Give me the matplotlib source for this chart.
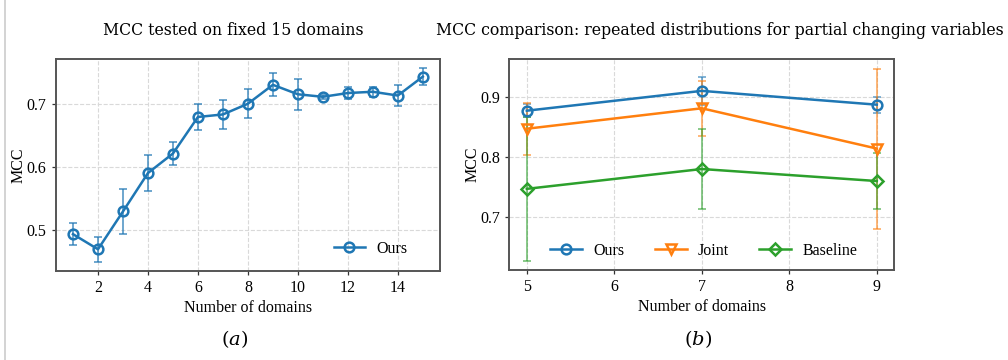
import matplotlib
matplotlib.use("Agg")
import matplotlib.pyplot as plt
from matplotlib.lines import Line2D

# Panel (a): MCC vs number of training domains, tested on 15 fixed domains
domains_a = [1, 2, 3, 4, 5, 6, 7, 8, 9, 10, 11, 12, 13, 14, 15]
mcc_a = [0.493, 0.469, 0.529, 0.590, 0.621, 0.679, 0.683, 0.700, 0.730,
         0.715, 0.711, 0.717, 0.719, 0.713, 0.743]
err_a = [0.018, 0.020, 0.035, 0.028, 0.018, 0.021, 0.023, 0.023, 0.018,
         0.025, 0.003, 0.010, 0.008, 0.016, 0.013]

# Panel (b): comparison with repeated distributions
domains_b = [5, 7, 9]
mcc_ours = [0.877, 0.910, 0.887]
err_ours = [0.011, 0.023, 0.013]
mcc_joint = [0.847, 0.881, 0.814]
err_joint = [0.043, 0.046, 0.133]
mcc_base = [0.747, 0.780, 0.760]
err_base = [0.120, 0.067, 0.047]

BLUE, ORANGE, GREEN = "#1f77b4", "#ff7f0e", "#2ca02c"
SPINE = "#555555"

plt.rcParams["font.family"] = ["Liberation Serif", "DejaVu Serif"]
plt.rcParams["mathtext.fontset"] = "dejavuserif"

W, H = 1008, 360
fig = plt.figure(figsize=(W / 100, H / 100), dpi=100)


def px_axes(x0, x1, y0, y1):
    return fig.add_axes([x0 / W, 1 - y1 / H, (x1 - x0) / W, (y1 - y0) / H])


def style(ax):
    ax.grid(True, linestyle="--", color="#d9d9d9", linewidth=0.8)
    ax.set_axisbelow(True)
    for s in ax.spines.values():
        s.set_color(SPINE)
        s.set_linewidth(1.4)
    ax.tick_params(labelsize=11.5, length=3, width=0.9, color="#333333")
    ax.set_xlabel("Number of domains", fontsize=11.5, labelpad=3)
    ax.set_ylabel("MCC", fontsize=11.5, labelpad=0)


def draw(ax, x, y, e, color, marker, label, ms=7, elw=1.4, alpha=0.65):
    ax.errorbar(x, y, yerr=e, fmt="none", ecolor=color, elinewidth=elw,
                capsize=3, capthick=elw, alpha=alpha, zorder=2)
    ax.plot(x, y, color=color, marker=marker, markersize=ms,
            markerfacecolor="none", markeredgewidth=1.8, linewidth=1.8,
            label=label, zorder=3)


# (a)
ax1 = px_axes(55.5, 440.3, 59, 270.7)
draw(ax1, domains_a, mcc_a, err_a, BLUE, "o", "Ours")
ax1.set_xlim(0.3, 15.7)
ax1.set_ylim(0.435, 0.771)
ax1.set_xticks([2, 4, 6, 8, 10, 12, 14])
ax1.set_yticks([0.5, 0.6, 0.7])
style(ax1)
ax1.legend(loc="center", bbox_to_anchor=(0.819, 0.1025), frameon=False,
           fontsize=11.5, handlelength=2.0, handletextpad=0.7,
           borderpad=0, borderaxespad=0)

# (b)
ax2 = px_axes(509.3, 894.3, 59, 270)
draw(ax2, domains_b, mcc_ours, err_ours, BLUE, "o", "Ours", elw=1.2)
draw(ax2, domains_b, mcc_joint, err_joint, ORANGE, "v", "Joint", elw=1.2)
draw(ax2, domains_b, mcc_base, err_base, GREEN, "D", "Baseline", ms=6.5, elw=1.2)
ax2.set_xlim(4.8, 9.2)
ax2.set_ylim(0.612, 0.963)
ax2.set_xticks([5, 6, 7, 8, 9])
ax2.set_yticks([0.7, 0.8, 0.9])
style(ax2)
ax2.legend(loc="center", bbox_to_anchor=(0.505, 0.0915), ncol=3,
           frameon=False, fontsize=11.5, handlelength=2.0,
           handletextpad=0.7, columnspacing=1.9, borderpad=0,
           borderaxespad=0)

# panel titles and captions
fig.text(233.7 / W, 1 - 30.5 / H, "MCC tested on fixed 15 domains",
         ha="center", va="center", fontsize=11.3, family="DejaVu Serif")
fig.text(719.6 / W, 1 - 30.5 / H,
         "MCC comparison: repeated distributions for partial changing variables",
         ha="center", va="center", fontsize=11.3, family="DejaVu Serif")
fig.text(235 / W, 1 - 339 / H, r"$(a)$", ha="center", va="center", fontsize=14)
fig.text(698 / W, 1 - 339 / H, r"$(b)$", ha="center", va="center", fontsize=14)

# page rule on the left edge
fig.add_artist(Line2D([5 / W, 5 / W], [0, 1], color="#cccccc", linewidth=1.2,
                      transform=fig.transFigure))

fig.savefig("out.png", dpi=100)
